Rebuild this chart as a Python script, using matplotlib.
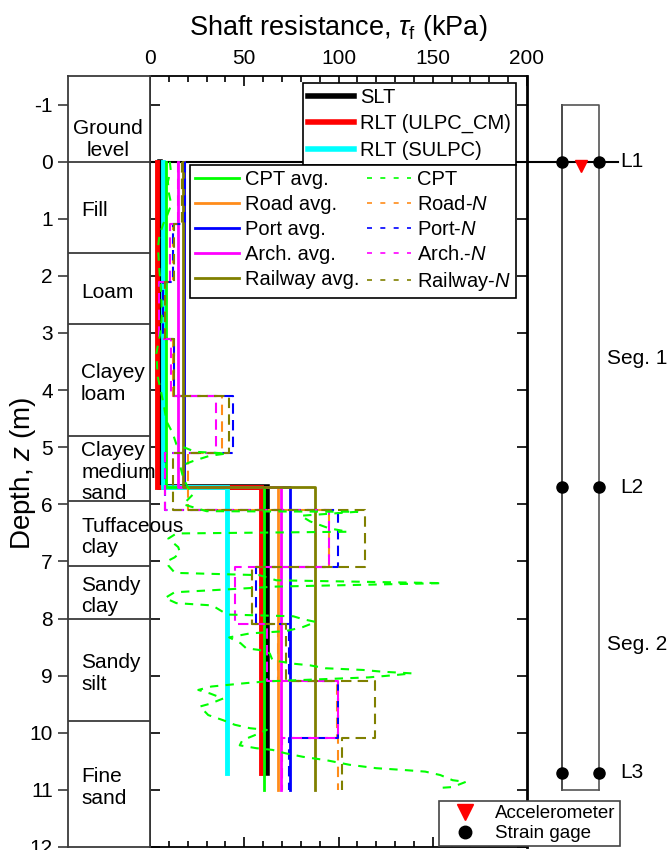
import numpy as np
import matplotlib
matplotlib.use('Agg')
import matplotlib.pyplot as plt
from matplotlib.lines import Line2D
from matplotlib.ticker import MultipleLocator

plt.rcParams['font.family'] = ['Liberation Sans', 'DejaVu Sans']
plt.rcParams['mathtext.fontset'] = 'custom'
plt.rcParams['mathtext.rm'] = 'Liberation Sans'
plt.rcParams['mathtext.it'] = 'Liberation Sans:italic'

# soil profile
layer_names = ['Ground\nlevel', 'Fill', 'Loam', 'Clayey\nloam', 'Clayey\nmedium\nsand',
               'Tuffaceous\nclay', 'Sandy\nclay', 'Sandy\nsilt', 'Fine\nsand']
layer_bounds = [-1.0, 0.0, 1.6, 2.85, 4.8, 5.95, 7.08, 8.0, 9.8, 12.0]

# load tests, segments L1-L2 and L2-L3
gauge_depth = [0.0, 5.7, 10.7]
gauge_names = ['L1', 'L2', 'L3']
slt_q = [5.5, 62.2]
rlt_cm_q = [3.9, 59.1]
rlt_sulpc_q = [6.9, 40.7]

# averaged predictions
avg_depth = [0.0, 5.7, 11.0]
cpt_avg = [8.6, 60.5]
road_avg = [18.3, 67.9]
port_avg = [18.0, 74.2]
arch_avg = [14.8, 69.7]
rail_avg = [17.5, 87.5]

# SPT-N based profiles
spt_depth = [0.0, 1.1, 2.1, 3.1, 4.1, 5.1, 6.1, 7.1, 8.1, 9.1, 10.1, 11.0]
road_n = [17.0, 12.0, 8.0, 12.0, 38.0, 20.0, 95.0, 54.0, 68.0, 99.0, 99.6]
port_n = [18.5, 12.0, 7.0, 12.5, 43.9, 8.0, 99.6, 56.0, 74.0, 99.6, 74.0]
arch_n = [15.0, 10.4, 5.0, 11.3, 35.0, 8.0, 94.7, 45.0, 62.0, 99.6, 70.0]
rail_n = [17.0, 12.5, 8.0, 12.7, 41.8, 12.0, 113.8, 54.0, 72.0, 119.6, 101.6]

# CPT profile
cpt_depth = [0.0, 0.15, 0.35, 0.55, 0.75, 0.95, 1.1, 1.3, 1.5, 1.9, 2.3, 2.7, 3.0, 3.35,
             3.75, 4.05, 4.3, 4.55, 4.75, 4.95, 5.08, 5.11, 5.15, 5.24, 5.33, 5.53, 5.7,
             5.82, 6.0, 6.12, 6.13, 6.2, 6.3, 6.42, 6.48, 6.51, 6.6, 6.75, 6.85, 6.93, 7.0,
             7.07, 7.2, 7.24, 7.33, 7.38, 7.44, 7.5, 7.54, 7.64, 7.73, 7.77, 7.93, 7.96,
             8.01, 8.06, 8.15, 8.22, 8.26, 8.33, 8.43, 8.52, 8.55, 8.61, 8.73, 8.79, 8.82,
             8.87, 8.9, 8.93, 8.96, 8.99, 9.03, 9.1, 9.13, 9.19, 9.25, 9.31, 9.4, 9.49,
             9.54, 9.69, 9.78, 9.86, 9.92, 9.95, 10.05, 10.13, 10.22, 10.27, 10.3, 10.36,
             10.42, 10.48, 10.56, 10.62, 10.65, 10.68, 10.74, 10.83, 10.86, 10.95, 10.97]
cpt_q = [10.5, 11.0, 9.5, 10.0, 11.3, 9.0, 6.9, 5.0, 4.2, 5.0, 6.0, 6.3, 5.5, 3.4,
         4.0, 6.0, 7.5, 8.8, 12.0, 14.0, 24.0, 40.6, 31.7, 23.0, 16.0, 17.6, 20.0,
         23.0, 17.6, 30.0, 110.0, 80.0, 85.0, 95.0, 105.0, 14.0, 9.7, 15.0, 15.9, 13.0, 8.8,
         9.7, 13.2, 58.0, 67.0, 155.0, 67.0, 35.0, 13.0, 8.0, 14.0, 33.0, 41.0, 76.0,
         81.0, 88.0, 81.0, 72.0, 53.0, 42.0, 48.0, 51.0, 58.0, 63.5, 65.0, 76.0, 85.0,
         93.0, 113.0, 123.0, 139.0, 130.0, 116.0, 62.0, 51.0, 32.6, 25.6, 31.7, 38.8, 32.0,
         26.5, 30.9, 38.8, 45.0, 53.0, 62.0, 55.0, 49.0, 47.6, 56.4, 65.0, 72.0,
         81.0, 93.5, 105.8, 120.0, 134.0, 146.0, 154.0, 160.5, 167.5, 160.5, 151.7]

pile_top, pile_bot = -1.0, 11.0


def step_xy(depths, values):
    """step profile: constant value between consecutive depths"""
    d = np.asarray(depths)
    x = np.repeat(values, 2)
    y = np.column_stack([d[:-1], d[1:]]).ravel()
    return x, y


W, H = 672, 850
fig = plt.figure(figsize=(W / 100, H / 100), dpi=100)
bot = 3 / H
hgt = (847 - 76) / H
ax = fig.add_axes([150 / W, bot, 377 / W, hgt])
ax_soil = fig.add_axes([68 / W, bot, 82 / W, hgt])
ax_pile = fig.add_axes([527 / W, bot, (W - 527) / W, hgt])

ylim = (12, -1.5)
gray = '#3a3a3a'

# ---- soil column
ax_soil.set_ylim(*ylim)
ax_soil.set_xlim(0, 1)
ax_soil.set_xticks([])
ax_soil.set_yticks(np.arange(-1, 13))
ax_soil.set_yticklabels([str(v) for v in np.arange(-1, 13)])
ax_soil.tick_params(axis='y', direction='out', length=7, width=1.2, labelsize=15, pad=4,
                    color=gray)
for s in ax_soil.spines.values():
    s.set_color(gray)
    s.set_linewidth(1.3)
for b in layer_bounds[1:-1]:
    ax_soil.axhline(b, color=gray, lw=1.3)
ax_soil.set_ylabel('Depth, $z$ (m)', fontsize=20)
ax_soil.yaxis.set_label_coords(-0.36, 0.485)
for i, name in enumerate(layer_names):
    zc = 0.5 * (layer_bounds[i] + layer_bounds[i + 1]) + 0.06
    if i == 0:
        ax_soil.text(0.49, zc + 0.05, name, ha='center', va='center', fontsize=15,
                     multialignment='center')
    else:
        ax_soil.text(0.16, zc, name, ha='left', va='center', fontsize=15, clip_on=False,
                     linespacing=1.15)

# ---- main plot
ax.set_xlim(0, 200)
ax.set_ylim(*ylim)
ax.axhline(0, color='black', lw=1.5, zorder=1)

for q, c, lw in [(slt_q, 'black', 4.0), (rlt_cm_q, 'red', 3.5), (rlt_sulpc_q, 'cyan', 3.5)]:
    x, y = step_xy(gauge_depth, q)
    ax.plot(x, y, color=c, lw=lw, solid_joinstyle='miter', zorder=2)

avg_styles = [(cpt_avg, '#00ff00', 'CPT avg.'), (road_avg, '#ff8c1a', 'Road avg.'),
              (port_avg, '#0000ff', 'Port avg.'), (arch_avg, '#ff00ff', 'Arch. avg.'),
              (rail_avg, '#808000', 'Railway avg.')]
for q, c, lab in avg_styles:
    x, y = step_xy(avg_depth, q)
    ax.plot(x, y, color=c, lw=2.0, zorder=3)

n_styles = [(road_n, '#ff8c1a', 'Road-$N$'), (port_n, '#0000ff', 'Port-$N$'),
            (arch_n, '#ff00ff', 'Arch.-$N$'), (rail_n, '#808000', 'Railway-$N$')]
dash = (0, (5, 3))
for q, c, lab in n_styles:
    x, y = step_xy(spt_depth, q)
    ax.plot(x, y, color=c, lw=1.5, ls=dash, zorder=4)

ax.plot(cpt_q, cpt_depth, color='#00ff00', lw=1.5, ls=(0, (4, 3.5)), zorder=5)

ax.xaxis.tick_top()
ax.xaxis.set_label_position('top')
ax.set_xticks([0, 50, 100, 150, 200])
ax.xaxis.set_minor_locator(MultipleLocator(10))
ax.tick_params(axis='x', which='both', direction='in', top=True, bottom=True,
               labeltop=True, labelbottom=False, labelsize=15, pad=6, width=1.2)
ax.tick_params(axis='x', which='major', length=7)
ax.tick_params(axis='x', which='minor', length=4)
ax.set_yticks(np.arange(-1, 13))
ax.tick_params(axis='y', direction='in', left=True, right=True, labelleft=False,
               length=7, width=1.2)
ax.set_xlabel(r'Shaft resistance, $\tau_\mathrm{f}$ (kPa)', fontsize=19.5, labelpad=10)
for s in ax.spines.values():
    s.set_linewidth(1.3)
ax.spines['right'].set_linewidth(2.0)

h1 = [Line2D([], [], color=c, lw=4) for c in ['black', 'red', 'cyan']]
leg1 = ax.legend(h1, ['SLT', 'RLT (ULPC_CM)', 'RLT (SULPC)'], loc='upper right',
                 bbox_to_anchor=(0.971, 0.991), borderaxespad=0, fontsize=14.5,
                 handlelength=2.3, handletextpad=0.3, labelspacing=0.36, borderpad=0.25,
                 fancybox=False, framealpha=1, edgecolor='black')
leg1.get_frame().set_linewidth(1.2)
ax.add_artist(leg1)

leg_dash = (0, (3, 5))
h2 = [Line2D([], [], color=c, lw=2) for q, c, lab in avg_styles]
l2 = [lab for q, c, lab in avg_styles]
h2 += [Line2D([], [], color='#00ff00', lw=1.2, ls=leg_dash)]
l2 += ['CPT']
h2 += [Line2D([], [], color=c, lw=1.2, ls=leg_dash) for q, c, lab in n_styles]
l2 += [lab for q, c, lab in n_styles]
leg2 = ax.legend(h2, l2, ncol=2, loc='upper right', bbox_to_anchor=(0.971, 0.885),
                 borderaxespad=0, fontsize=14.5, handlelength=2.2, handletextpad=0.3,
                 labelspacing=0.3, columnspacing=0.35, borderpad=0.25,
                 fancybox=False, framealpha=1, edgecolor='black')
leg2.get_frame().set_linewidth(1.2)

# ---- pile schematic
ax_pile.set_ylim(*ylim)
ax_pile.set_xlim(0, 1)
ax_pile.axis('off')
pl, pr = 0.241, 0.497
ax_pile.plot([pl, pl], [pile_top, pile_bot], color='black', lw=1.2)
ax_pile.plot([pr, pr, pl, pl], [pile_bot, pile_top, pile_top, pile_bot], color='#555555',
             lw=1.2)
ax_pile.plot([pl, pr], [pile_bot, pile_bot], color='#555555', lw=1.2)
ax_pile.plot([0, 0.628], [0, 0], color='black', lw=1.5)
for z, name in zip(gauge_depth, gauge_names):
    ax_pile.plot([pl, pr], [z, z], 'o', color='black', ms=8, zorder=5)
    ax_pile.text(0.645, z, name, fontsize=15, va='center', ha='left')
ax_pile.plot([0.5 * (pl + pr)], [0.08], 'v', color='red', ms=9, zorder=6)
for k, dz in enumerate([0.6, 0.25]):
    zc = 0.5 * (gauge_depth[k] + gauge_depth[k + 1])
    ax_pile.text(0.55, zc + dz, 'Seg. %d' % (k + 1), fontsize=15, va='center', ha='left')

h3 = [Line2D([], [], ls='none', marker='v', color='red', ms=12),
      Line2D([], [], ls='none', marker='o', color='black', ms=9)]
leg3 = fig.legend(h3, ['Accelerometer', 'Strain gage'], loc='lower left',
                  bbox_to_anchor=(439 / W, 4 / H), borderaxespad=0, fontsize=13.5,
                  handlelength=2.4, handletextpad=0.4, labelspacing=0.15, borderpad=0.2,
                  fancybox=False, framealpha=1, edgecolor='#444444')
leg3.get_frame().set_linewidth(1.2)

fig.savefig('out.png', dpi=100)
